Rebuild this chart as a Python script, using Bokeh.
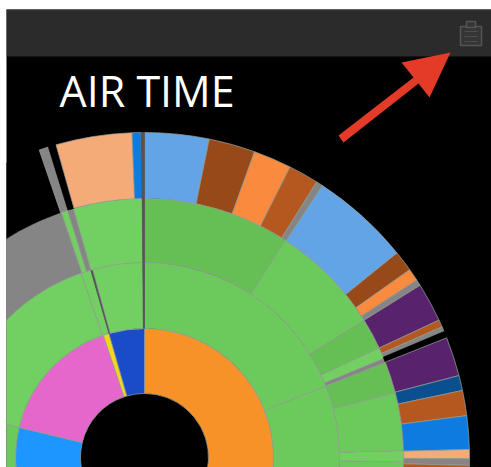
from math import radians
from bokeh.plotting import figure, ColumnDataSource
from bokeh.models import Range1d
from bokeh.core.properties import value
from bokeh.embed import file_html
from bokeh.resources import INLINE

BLACK = "#000000"
GREY = "#858585"
LINE = "#555555"
G_DARK = "#65bf55"
G_MID = "#6cc95c"
G_LIGHT = "#72cf62"
TERRA = "#b5581f"
BROWN = "#97491a"
ORANGE = "#f98a3e"
SKY = "#62a4e6"
PLUM = "#58226d"
AZURE = "#0d7be0"
PEACH = "#f5ab77"
NAVY = "#0a4f8f"

title_text = "AIR TIME"

# Each ring runs clockwise from 12 o'clock; values are shares of a 360-unit total.
ring1_values = [165, 118.5, 57.9, 2.6, 16]
ring1_colors = ["#f79229", "#1e96ff", "#e667cc", "#f5d51e", "#1a4bc8"]

ring2_values = [68.5, 96.5, 118.5, 57.5, 3, 0.6, 14.9, 0.5]
ring2_colors = [G_MID, G_MID, G_MID, G_LIGHT, G_LIGHT, LINE, G_LIGHT, LINE]

ring3_values = [33, 25, 7, 2.5, 1, 7, 13, 2.5, 209, 41.3, 1.4, 1.4, 15.4, 0.5]
ring3_colors = [G_DARK, G_MID, G_DARK, G_LIGHT, GREY, G_DARK, G_MID, G_LIGHT, G_MID,
                GREY, G_LIGHT, GREY, G_LIGHT, LINE]

ring4_values = [11.5, 8.3, 6.8, 5.4, 1.2, 17.8, 3.7, 2.2, 1.1, 7, 1.3, 0.9, 1.2, 7, 2.7,
                4.5, 6, 1.6, 1.2, 6, 243.7, 1.7, 1.4, 13.6, 1.6, 0.6]
ring4_colors = [SKY, BROWN, ORANGE, TERRA, GREY, SKY, BROWN, ORANGE, GREY, PLUM, TERRA, GREY,
                BLACK, PLUM, NAVY, TERRA, AZURE, PEACH, GREY, TERRA, BLACK, GREY, BLACK,
                PEACH, AZURE, LINE]

ring_bounds = [(64, 129), (129, 195), (195, 259), (259, 325)]
rings = [(ring1_values, ring1_colors), (ring2_values, ring2_colors),
         (ring3_values, ring3_colors), (ring4_values, ring4_colors)]

p = figure(width=485, height=458, output_backend="svg", toolbar_location=None,
           x_range=Range1d(-138, 347), y_range=Range1d(-10, 448),
           min_border=0, margin=(9, 0, 0, 6), outline_line_color=None,
           background_fill_color=BLACK, border_fill_color=BLACK)
p.xaxis.visible = False
p.yaxis.visible = False
p.grid.visible = False


def edge_for(color):
    if color == BLACK:
        return BLACK
    if color == LINE:
        return LINE
    return "#9aa39a"


for (inner, outer), (vals, cols) in zip(ring_bounds, rings):
    starts, ends, acc = [], [], 0.0
    for v in vals:
        starts.append(radians(90 - acc))
        acc += v
        ends.append(radians(90 - acc))
    src = ColumnDataSource(dict(start=starts, end=ends, color=cols,
                                edge=[edge_for(c) for c in cols]))
    p.annular_wedge(x=0, y=0, inner_radius=inner, outer_radius=outer,
                    start_angle="start", end_angle="end", direction="clock",
                    fill_color="color", line_color="edge", line_width=0.7, source=src)

# Header bar
p.quad(left=-138, right=347, top=448, bottom=401, fill_color="#2b2b2b", line_color=None)
p.segment(x0=-138, x1=347, y0=447.5, y1=447.5, line_color="#3a3a3a", line_width=1)

# Clipboard icon in the header
p.quad(left=316, right=337, top=431, bottom=412, fill_color="#353535", line_color="#555555", line_width=1.5)
p.quad(left=322, right=331, top=436, bottom=430, fill_color="#353535", line_color="#555555", line_width=1.5)
p.segment(x0=[320, 320, 320], x1=[333, 333, 333], y0=[426, 421, 416], y1=[426, 421, 416],
          line_color="#4d4d4d", line_width=1)

# Red arrow
p.patch(x=[194, 199, 274, 285, 306, 257, 269], y=[322, 315, 374, 360, 405, 395, 380],
        fill_color="#e43a28", line_color=None)

p.text(x=[-85], y=[367], text=[title_text], text_color="white", text_font=value("Open Sans"),
       text_font_size="43px", text_baseline="middle", text_align="left")

open("out.html", "w").write(file_html(p, INLINE))
